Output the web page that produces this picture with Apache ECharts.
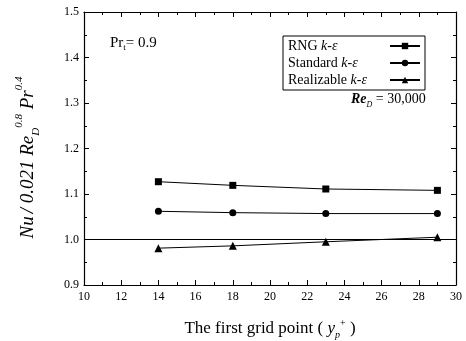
<!DOCTYPE html>
<html>
<head>
<meta charset="utf-8">
<script src="https://cdn.jsdelivr.net/npm/echarts@6/dist/echarts.min.js"></script>
<style>
  html, body { margin: 0; padding: 0; background: #fff; }
  #main { width: 466px; height: 341px; }
</style>
</head>
<body>
<div id="main"></div>
<script>
// data
var gridPoints = [14, 18, 23, 29];
var rngValues = [1.127, 1.119, 1.111, 1.108];
var standardValues = [1.062, 1.059, 1.057, 1.057];
var realizableValues = [0.981, 0.986, 0.995, 1.005];
var seriesNames = ['RNG', 'Standard', 'Realizable'];

var FONT = 'Liberation Serif';

function pairs(vals) {
  return gridPoints.map(function (x, i) { return [x, vals[i]]; });
}

function lineSeries(name, vals, symbol, size) {
  return {
    name: name,
    type: 'line',
    data: pairs(vals),
    symbol: symbol,
    symbolSize: size,
    itemStyle: { color: '#000' },
    lineStyle: { color: '#000', width: 1 },
    z: 5
  };
}

var axisCommon = {
  min: 10, max: 30, interval: 2,
  axisLine: { lineStyle: { color: '#000', width: 1.2 } },
  axisTick: { inside: true, length: 5, lineStyle: { color: '#000' } },
  minorTick: { show: true, splitNumber: 2, length: 3, lineStyle: { color: '#000' } },
  splitLine: { show: false }
};

var option = {
  animation: false,
  backgroundColor: '#fff',
  textStyle: { fontFamily: FONT },
  grid: { left: 84, right: 10, top: 12, bottom: 56, outerBoundsMode: 'none' },
  legend: {
    orient: 'vertical',
    left: 283, top: 36,
    align: 'right',
    itemWidth: 30, itemHeight: 8,
    itemGap: 3,
    padding: [3, 4, 3, 5],
    borderColor: '#000', borderWidth: 1,
    data: seriesNames,
    formatter: function (name) {
      return '{n|' + name + ' }{k|k-\u03b5}';
    },
    textStyle: {
      fontFamily: FONT, fontSize: 14, color: '#000', width: 97,
      rich: {
        n: { fontFamily: FONT, fontSize: 14, color: '#000', align: 'left' },
        k: { fontFamily: FONT, fontSize: 14, fontStyle: 'italic', color: '#000', align: 'left' }
      }
    }
  },
  xAxis: [
    Object.assign({}, axisCommon, {
      type: 'value', position: 'bottom',
      axisLabel: { color: '#000', fontFamily: FONT, fontSize: 12, margin: 6 },
      name: '{t|The first grid point ( }{i|y}{sub|p}{sup|+}{t| )}',
      nameLocation: 'middle', nameGap: 33,
      nameTextStyle: {
        rich: {
          t: { fontFamily: FONT, fontSize: 17, color: '#000', lineHeight: 22 },
          i: { fontFamily: FONT, fontSize: 17, fontStyle: 'italic', color: '#000', lineHeight: 22 },
          sub: { fontFamily: FONT, fontSize: 10, fontStyle: 'italic', color: '#000', verticalAlign: 'bottom', lineHeight: 22 },
          sup: { fontFamily: FONT, fontSize: 10, color: '#000', verticalAlign: 'top', lineHeight: 22 }
        }
      }
    }),
    Object.assign({}, axisCommon, {
      type: 'value', position: 'top',
      axisLabel: { show: false }
    })
  ],
  yAxis: [
    {
      type: 'value', position: 'left',
      min: 0.9, max: 1.5, interval: 0.1,
      axisLine: { show: true, lineStyle: { color: '#000', width: 1.2 } },
      axisTick: { show: true, inside: true, length: 5, lineStyle: { color: '#000' } },
      minorTick: { show: true, splitNumber: 2, length: 3, lineStyle: { color: '#000' } },
      splitLine: { show: false },
      axisLabel: {
        color: '#000', fontFamily: FONT, fontSize: 12, margin: 5,
        formatter: function (v) { return v.toFixed(1); }
      },
      name: '{i|Nu} {t|/ 0.021 }{i|Re}{sub|D}{sup|0.8}{t| }{i|Pr}{sup|0.4}',
      nameLocation: 'middle', nameGap: 42, nameRotate: 90,
      nameTextStyle: {
        padding: [0, 18, 0, 0],
        rich: {
          t: { fontFamily: FONT, fontSize: 19, fontStyle: 'italic', color: '#000', lineHeight: 28 },
          i: { fontFamily: FONT, fontSize: 19, fontStyle: 'italic', color: '#000', lineHeight: 28 },
          sub: { fontFamily: FONT, fontSize: 11, fontStyle: 'italic', color: '#000', verticalAlign: 'bottom', lineHeight: 28 },
          sup: { fontFamily: FONT, fontSize: 11, fontStyle: 'italic', color: '#000', verticalAlign: 'top', lineHeight: 28 }
        }
      }
    },
    {
      type: 'value', position: 'right',
      min: 0.9, max: 1.5, interval: 0.1,
      axisLine: { show: true, lineStyle: { color: '#000', width: 1.2 } },
      axisTick: { show: true, inside: true, length: 5, lineStyle: { color: '#000' } },
      minorTick: { show: true, splitNumber: 2, length: 3, lineStyle: { color: '#000' } },
      splitLine: { show: false },
      axisLabel: { show: false }
    }
  ],
  graphic: [
    {
      type: 'text', left: 110, top: 36,
      style: {
        text: '{t|Pr}{sub|t}{t|= 0.9}',
        rich: {
          t: { fontFamily: FONT, fontSize: 15, fill: '#000', lineHeight: 18 },
          sub: { fontFamily: FONT, fontSize: 9, fill: '#000', verticalAlign: 'bottom', lineHeight: 18 }
        }
      }
    },
    {
      type: 'text', left: 351, top: 92,
      style: {
        text: '{i|Re}{sub|D}{t| = 30,000}',
        rich: {
          t: { fontFamily: FONT, fontSize: 14, fill: '#000', lineHeight: 20 },
          i: { fontFamily: FONT, fontSize: 14, fontStyle: 'italic', fontWeight: 'bold', fill: '#000', lineHeight: 20 },
          sub: { fontFamily: FONT, fontSize: 8, fontStyle: 'italic', fill: '#000', verticalAlign: 'bottom', lineHeight: 20 }
        }
      }
    }
  ],
  series: [
    Object.assign(lineSeries('RNG', rngValues, 'rect', 7), {
      markLine: {
        silent: true,
        symbol: 'none',
        label: { show: false },
        lineStyle: { color: '#000', type: 'solid', width: 1.2 },
        data: [{ yAxis: 1.0 }]
      }
    }),
    lineSeries('Standard', standardValues, 'circle', 7),
    lineSeries('Realizable', realizableValues, 'triangle', 8)
  ]
};

var chart = echarts.init(document.getElementById('main'));
chart.setOption(option);
</script>
</body>
</html>
